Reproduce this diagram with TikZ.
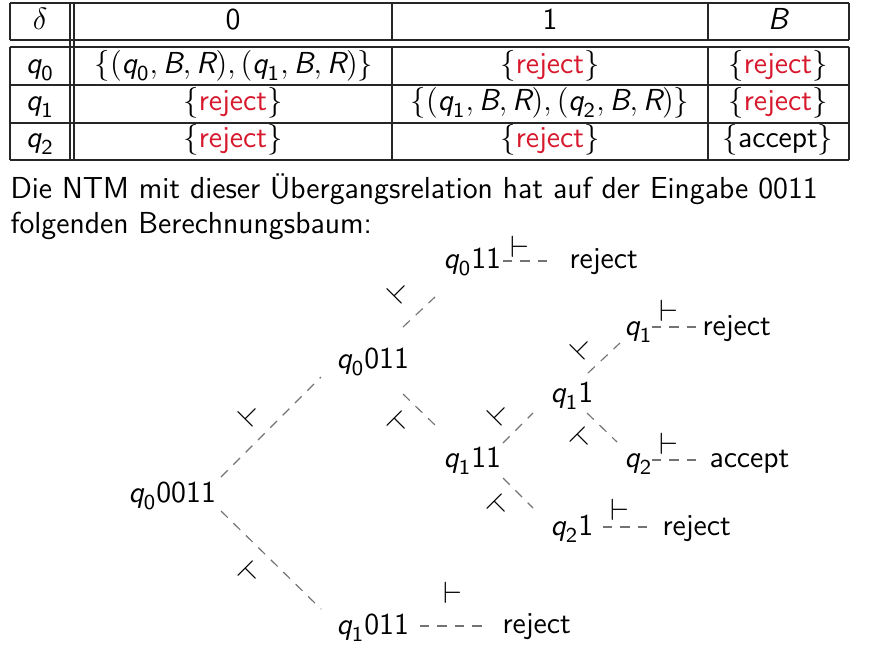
\documentclass[tikz,border=0pt]{standalone}
\usepackage{fontspec}
\usepackage{amsmath}
\definecolor{rej}{RGB}{215,25,45}
\newcommand\Qs[1]{\text{\itshape q}_{\text{#1}}}
\newcommand\Si[1]{\text{\itshape #1}}
\begin{document}
\begin{tikzpicture}[x=0.39pt,y=-0.39pt,
  font=\sffamily\fontsize{11.85}{14.5}\selectfont,
  txt/.style={inner sep=0pt, anchor=base west},
  cell/.style={inner sep=0pt, anchor=base},
  tedge/.style={draw=black!55, line width=0.45pt, dash pattern=on 3.7pt off 3.1pt},
  turn/.style={inner sep=0pt},
  rule/.style={draw=black!85, line width=0.5pt}]
\useasboundingbox (0,0) rectangle (880,661);
% ---------- table rules
\foreach \yy in {3,40,47,85,123,160} \draw[rule] (10,\yy) -- (849,\yy);
\foreach \xx in {10,392,708,849} {\draw[rule] (\xx,3) -- (\xx,40); \draw[rule] (\xx,47) -- (\xx,160);}
\draw[rule] (70,3) -- (70,160);
\draw[rule] (74,3) -- (74,160);
% ---------- table cells
\node[cell] (h0) at (40,29) {$\delta$};
\node[cell] (h1) at (233,29) {0};
\node[cell] (h2) at (550,29) {1};
\node[cell] (h3) at (778,29) {\itshape B};
\node[cell] (a0) at (40,73) {$\Qs{0}$};
\node[cell] (a1) at (234,73) {$\{(\Qs{0}, \Si{B}, \Si{R}), (\Qs{1}, \Si{B}, \Si{R})\}$};
\node[cell] (a2) at (550,73) {$\{$\textcolor{rej}{reject}$\}$};
\node[cell] (a3) at (778,73) {$\{$\textcolor{rej}{reject}$\}$};
\node[cell] (b0) at (40,110) {$\Qs{1}$};
\node[cell] (b1) at (233,110) {$\{$\textcolor{rej}{reject}$\}$};
\node[cell] (b2) at (550,110) {$\{(\Qs{1}, \Si{B}, \Si{R}), (\Qs{2}, \Si{B}, \Si{R})\}$};
\node[cell] (b3) at (778,110) {$\{$\textcolor{rej}{reject}$\}$};
\node[cell] (c0) at (40,147) {$\Qs{2}$};
\node[cell] (c1) at (233,147) {$\{$\textcolor{rej}{reject}$\}$};
\node[cell] (c2) at (550,147) {$\{$\textcolor{rej}{reject}$\}$};
\node[cell] (c3) at (778,147) {$\{$accept$\}$};
% ---------- text
\node[txt] (l1) at (10,198) {Die NTM mit dieser Übergangsrelation hat auf der Eingabe 0011};
\node[txt] (l2) at (10,233) {folgenden Berechnungsbaum:};
% ---------- tree nodes
\node[txt] (A) at (128,502) {$\Qs{0}$0011};
\node[txt] (B) at (336,368) {$\Qs{0}$011};
\node[txt] (C) at (336,634) {$\Qs{1}$011};
\node[txt] (D) at (443,268) {$\Qs{0}$11};
\node[txt] (E) at (443,467) {$\Qs{1}$11};
\node[txt] (F) at (550,402) {$\Qs{1}$1};
\node[txt] (G) at (550,535) {$\Qs{2}$1};
\node[txt] (H) at (624,335) {$\Qs{1}$};
\node[txt] (I) at (624,467) {$\Qs{2}$};
\node[txt] (R1) at (569,268) {reject};
\node[txt] (R2) at (502,633) {reject};
\node[txt] (R3) at (662,535) {reject};
\node[txt] (R4) at (702,335) {reject};
\node[txt] (AC) at (709,467) {accept};
% ---------- tree edges
\draw[tedge] ([shift={(93,-25)}]A.base west) -- ([shift={(-15,9)}]B.base west);
\draw[tedge] ([shift={(93,9)}]A.base west) -- ([shift={(-15,-25)}]C.base west);
\draw[tedge] ([shift={(67,-41)}]B.base west) -- ([shift={(-8,29)}]D.base west);
\draw[tedge] ([shift={(67,26)}]B.base west) -- ([shift={(-8,-42)}]E.base west);
\draw[tedge] ([shift={(60,-24)}]E.base west) -- ([shift={(-17,11)}]F.base west);
\draw[tedge] ([shift={(60,11)}]E.base west) -- ([shift={(-17,-27)}]G.base west);
\draw[tedge] ([shift={(38,-29)}]F.base west) -- ([shift={(-4,8)}]H.base west);
\draw[tedge] ([shift={(37,11)}]F.base west) -- ([shift={(-7,-25)}]I.base west);
\draw[tedge] ([shift={(60,-7)}]D.base west) -- ([shift={(-22,-7)}]R1.base west);
\draw[tedge] ([shift={(84,-8)}]C.base west) -- ([shift={(-20,-7)}]R2.base west);
\draw[tedge] ([shift={(53,-8)}]G.base west) -- ([shift={(-15,-8)}]R3.base west);
\draw[tedge] ([shift={(28,-8)}]H.base west) -- ([shift={(-5,-8)}]R4.base west);
\draw[tedge] ([shift={(28,-7)}]I.base west) -- ([shift={(-12,-7)}]AC.base west);
% ---------- turnstiles
\node[turn, rotate=45] (t1) at (251,414) {$\vdash$};
\node[turn, rotate=-45] (t2) at (251,574) {$\vdash$};
\node[turn, rotate=45] (t3) at (400,291) {$\vdash$};
\node[turn, rotate=-45] (t4) at (400,424) {$\vdash$};
\node[turn, rotate=45] (t5) at (500,413) {$\vdash$};
\node[turn, rotate=-45] (t6) at (500,507) {$\vdash$};
\node[turn, rotate=45] (t7) at (583,347) {$\vdash$};
\node[turn, rotate=-45] (t8) at (583,440) {$\vdash$};
\node[turn] (t9) at (520,247) {$\vdash$};
\node[turn] (t10) at (669,311) {$\vdash$};
\node[turn] (t11) at (669,444) {$\vdash$};
\node[turn] (t12) at (620,510) {$\vdash$};
\node[turn] (t13) at (453,593) {$\vdash$};
\end{tikzpicture}
\end{document}
